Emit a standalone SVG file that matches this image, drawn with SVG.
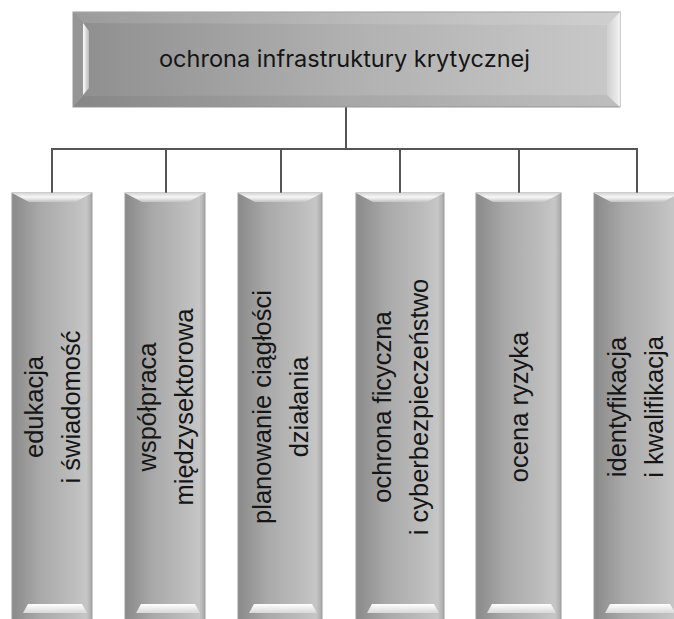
<svg xmlns="http://www.w3.org/2000/svg" width="674" height="619" viewBox="0 0 674 619">
<defs>
<linearGradient id="body" x1="0" y1="0" x2="1" y2="0">
<stop offset="0" stop-color="#8a8a8a"/>
<stop offset="0.35" stop-color="#a9a9a9"/>
<stop offset="0.75" stop-color="#bcbcbc"/>
<stop offset="0.93" stop-color="#c6c6c6"/>
<stop offset="1" stop-color="#a8a8a8"/>
</linearGradient>
<linearGradient id="topbody" x1="0" y1="0" x2="1" y2="0">
<stop offset="0" stop-color="#8e8e8e"/>
<stop offset="0.5" stop-color="#b0b0b0"/>
<stop offset="1" stop-color="#c9c9c9"/>
</linearGradient>
<linearGradient id="tbev" x1="0" y1="0" x2="0" y2="1">
<stop offset="0" stop-color="#d6d6d6"/>
<stop offset="0.45" stop-color="#f7f7f7"/>
<stop offset="1" stop-color="#c2c2c2"/>
</linearGradient>
<linearGradient id="bbev" x1="0" y1="0" x2="0" y2="1">
<stop offset="0" stop-color="#ffffff"/>
<stop offset="1" stop-color="#d8d8d8"/>
</linearGradient>
<linearGradient id="lhi" x1="0" y1="0" x2="1" y2="0">
<stop offset="0" stop-color="#ffffff"/>
<stop offset="1" stop-color="#b8b8b8"/>
</linearGradient>
<linearGradient id="rbev" x1="0" y1="0" x2="1" y2="0">
<stop offset="0" stop-color="#cfcfcf"/>
<stop offset="1" stop-color="#f2f2f2"/>
</linearGradient>
</defs>
<style>
.box{fill:url(#body);stroke:#9c9c9c;stroke-width:1}
.tb{fill:url(#tbev)}
.bb{fill:url(#bbev)}
.lbl{font-family:"Liberation Sans",Arial,sans-serif;font-size:25.5px;fill:#151515;text-anchor:middle}
.title{font-family:Inter,"Noto Sans",sans-serif;font-size:23px;fill:#151515;text-anchor:middle}
.conn{fill:none;stroke:#555;stroke-width:2}
</style>
<g id="connectors">
<path class="conn" d="M346 107V149M52 149H637M52 148V193M166 148V193M281 148V193M400 148V193M519 148V193M637 148V193"/>
</g>
<g id="root">
<rect x="73" y="12" width="547" height="95" fill="url(#topbody)" stroke="#9a9a9a" stroke-width="1"/>
<polygon points="73,12 620,12 607,25 83,23" fill="#ffffff" fill-opacity="0.12"/>
<polygon points="83,96 607,95 620,107 73,107" fill="#000000" fill-opacity="0.05"/>
<polygon points="73,12 83,23 83,96 73,107" fill="#959595"/>
<polygon points="83,23 89,31 89,88 83,95" fill="url(#lhi)"/>
<polygon points="620,12 620,107 607,95 607,25" fill="url(#rbev)"/>
<text class="title" x="344.5" y="67" textLength="371" lengthAdjust="spacingAndGlyphs">ochrona infrastruktury krytycznej</text>
</g>
<g id="n1">
<rect class="box" x="12" y="193" width="80" height="432"/>
<polygon class="tb" points="12,193 92,193 75,202 29,202"/>
<polygon class="bb" points="28,604 82,604 87,613 23,613"/>
<g transform="translate(52,407) rotate(-90)"><text class="lbl" x="0" y="-8.7">edukacja</text><text class="lbl" x="0" y="28.3">i świadomość</text></g>
</g>
<g id="n2">
<rect class="box" x="125" y="193" width="80" height="432"/>
<polygon class="tb" points="125,193 205,193 188,202 142,202"/>
<polygon class="bb" points="141,604 195,604 200,613 136,613"/>
<g transform="translate(165,407) rotate(-90)"><text class="lbl" x="0" y="-8.7">współpraca</text><text class="lbl" x="0" y="28.3">międzysektorowa</text></g>
</g>
<g id="n3">
<rect class="box" x="238" y="193" width="84" height="432"/>
<polygon class="tb" points="238,193 322,193 305,202 255,202"/>
<polygon class="bb" points="254,604 312,604 317,613 249,613"/>
<g transform="translate(280,407) rotate(-90)"><text class="lbl" x="0" y="-8.7">planowanie ciągłości</text><text class="lbl" x="0" y="28.3">działania</text></g>
</g>
<g id="n4">
<rect class="box" x="356" y="193" width="88" height="432"/>
<polygon class="tb" points="356,193 444,193 427,202 373,202"/>
<polygon class="bb" points="372,604 434,604 439,613 367,613"/>
<g transform="translate(400,407) rotate(-90)"><text class="lbl" x="0" y="-8.7">ochrona ficyczna</text><text class="lbl" x="0" y="28.3">i cyberbezpieczeństwo</text></g>
</g>
<g id="n5">
<rect class="box" x="476" y="193" width="85" height="432"/>
<polygon class="tb" points="476,193 561,193 544,202 493,202"/>
<polygon class="bb" points="492,604 551,604 556,613 487,613"/>
<g transform="translate(518.5,407) rotate(-90)"><text class="lbl" x="0" y="9.8">ocena ryzyka</text></g>
</g>
<g id="n6">
<rect class="box" x="594" y="193" width="86" height="432"/>
<polygon class="tb" points="594,193 680,193 663,202 611,202"/>
<polygon class="bb" points="610,604 670,604 675,613 605,613"/>
<g transform="translate(635,407) rotate(-90)"><text class="lbl" x="0" y="-8.7">identyfikacja</text><text class="lbl" x="0" y="28.3">i kwalifikacja</text></g>
</g>
</svg>
